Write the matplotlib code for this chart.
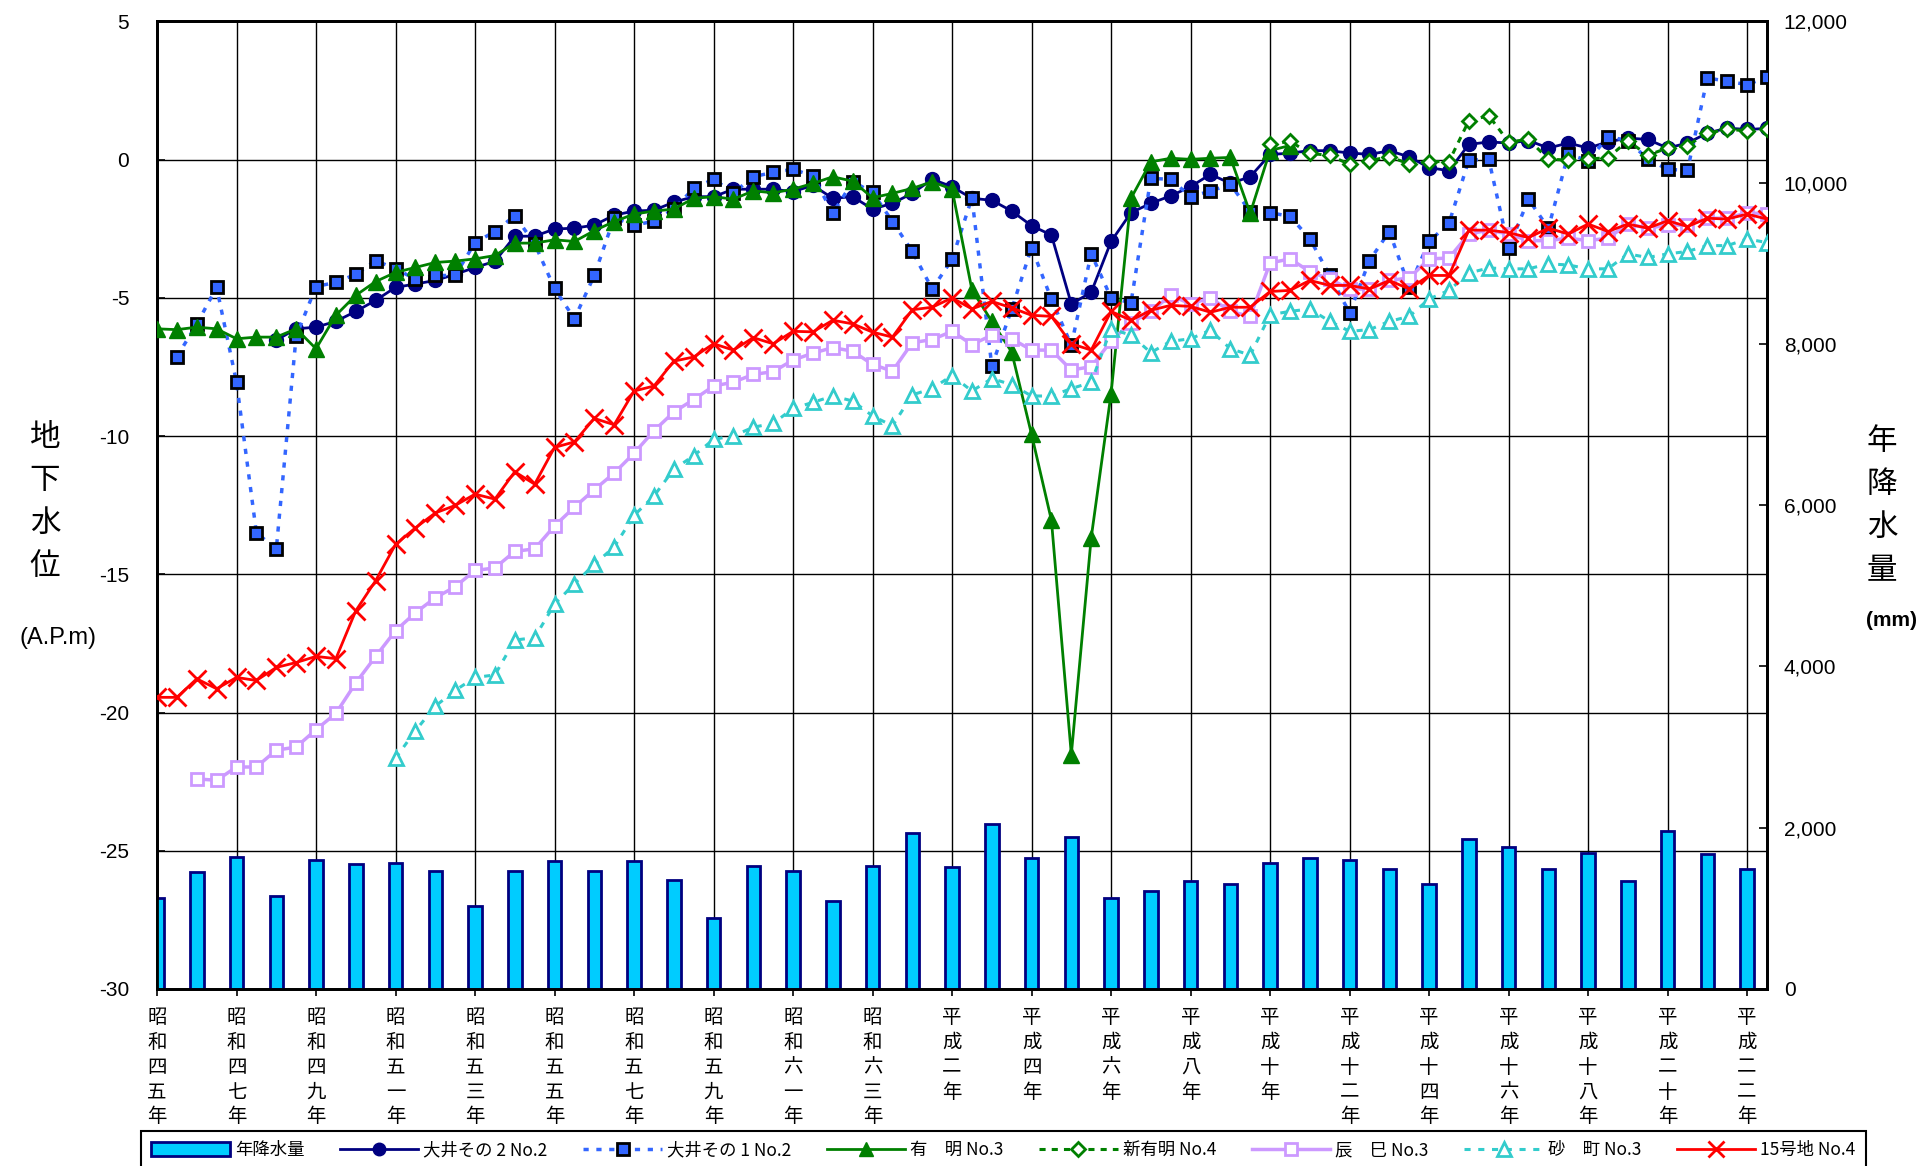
import numpy as np
import matplotlib
matplotlib.use("Agg")
import matplotlib.pyplot as plt
from matplotlib.patches import Patch
from matplotlib.lines import Line2D
from matplotlib.transforms import blended_transform_factory

nan = np.nan

# ---------------- data ----------------
# semiannual observations from 昭和45年 (1970) to 平成22年後半 (2010.5)
half_years = 1970 + 0.5 * np.arange(82)
rain_years = np.arange(1970, 2011)

oi2 = [nan, nan, nan, nan, nan, nan,
       -6.53, -6.12, -6.06, -5.85, -5.49, -5.09, -4.62, -4.50, -4.37, -4.15, -3.90, -3.68, -2.77, -2.77, -2.51,
       -2.48, -2.37, -2.01, -1.86, -1.83, -1.54, -1.34, -1.34, -1.07, -1.07, -1.07, -1.16, -0.93, -1.40, -1.34, -1.79, -1.58, -1.22, -0.71, -0.98,
       -1.40, -1.47, -1.86, -2.39, -2.73, -5.22, -4.80, -2.96, -1.92, -1.58, -1.31, -0.98, -0.53, -0.86, -0.62, 0.19, 0.23, 0.33, 0.32, 0.24,
       0.19, 0.32, 0.10, -0.29, -0.40, 0.55, 0.64, 0.60, 0.69, 0.42, 0.60, 0.42, 0.64, 0.78, 0.73, 0.42, 0.60, 0.96, 1.14, 1.09, 1.13]

oi1 = [nan,
       -7.13, -5.95, -4.62, -8.05, -13.49, -14.10, -6.39, -4.59, -4.44, -4.15, -3.65, -3.95, -4.32, -4.19, -4.19, -3.00, -2.60, -2.03, -3.04, -4.66,
       -5.76, -4.19, -2.10, -2.37, -2.23, -1.79, -1.04, -0.71, -1.20, -0.62, -0.46, -0.35, -0.59, -1.94, -0.80, -1.18, -2.24, -3.32, -4.68, -3.61,
       -1.38, -7.47, -5.41, -3.18, -5.05, -6.71, -3.40, -5.00, -5.18, -0.68, -0.71, -1.34, -1.14, -0.89, -1.88, -1.92, -2.05, -2.86, -4.19, -5.54,
       -3.65, -2.60, -4.60, -2.96, -2.30, -0.02, 0.02, -3.20, -1.43, -2.48, 0.20, -0.04, 0.83, 0.69, 0.02, -0.35, -0.39, 2.95, 2.84, 2.71, 2.99]

ariake = [-6.12, -6.15, -6.06, -6.12, -6.48, -6.42, -6.42, -6.12, -6.84, -5.63, -4.91, -4.41, -4.08, -3.90, -3.72, -3.67, -3.59, -3.47, -3.02, -3.02, -2.90,
          -2.96, -2.57, -2.24, -1.97, -1.86, -1.79, -1.40, -1.34, -1.43, -1.13, -1.20, -1.07, -0.86, -0.62, -0.78, -1.38, -1.22, -1.04, -0.80, -1.07,
          -4.71, -5.85, -6.96, -9.94, -13.05, -21.52, -13.68, -8.46, -1.40, -0.08, 0.05, 0.01, 0.05, 0.08, -1.94, 0.33, 0.51,
          nan, nan, nan, nan, nan, nan, nan, nan, nan, nan, nan, nan, nan, nan, nan, nan, nan, nan, nan, nan, nan, nan, nan, nan]

shin_ariake = [nan] * 56 + [0.55, 0.66, 0.23, 0.15, -0.17,
                            -0.04, 0.11, -0.16, -0.07, -0.07, 1.41, 1.59, 0.64, 0.73, 0.02, -0.02, 0.02, 0.07, 0.68, 0.16, 0.42, 0.51, 0.96, 1.09, 1.05, 1.09]

tatsumi = [nan, nan,
           -22.40, -22.45, -21.97, -21.97, -21.36, -21.25, -20.62, -20.03, -18.93, -17.97, -17.04, -16.39, -15.85, -15.45, -14.86, -14.77, -14.17, -14.08, -13.25,
           -12.57, -11.94, -11.34, -10.62, -9.81, -9.13, -8.68, -8.19, -8.05, -7.77, -7.67, -7.25, -7.00, -6.80, -6.93, -7.41, -7.65, -6.62, -6.51, -6.21,
           -6.69, -6.35, -6.48, -6.89, -6.89, -7.61, -7.49, -6.57, -5.90, -5.49, -4.91, -5.22, -5.00, -5.49, -5.67, -3.74, -3.59, -4.05, -4.32, -4.68,
           -4.68, -4.37, -4.28, -3.59, -3.56, -2.69, -2.55, -2.69, -2.93, -2.93, -2.84, -2.93, -2.84, -2.33, -2.48, -2.37, -2.37, -2.12, -2.12, -1.92, -1.97]

sunamachi = [nan] * 12 + [-21.65, -20.66, -19.77, -19.20, -18.73, -18.64, -17.38, -17.29, -16.08,
             -15.34, -14.64, -14.01, -12.87, -12.17, -11.20, -10.71, -10.12, -9.99, -9.68, -9.54, -9.00, -8.78, -8.55, -8.73, -9.27, -9.63, -8.51, -8.28, -7.81,
             -8.37, -7.92, -8.14, -8.55, -8.55, -8.28, -8.06, -6.12, -6.35, -6.98, -6.57, -6.48, -6.17, -6.84, -7.07, -5.61, -5.49, -5.40, -5.85, -6.21,
             -6.15, -5.85, -5.67, -5.04, -4.73, -4.10, -3.92, -3.95, -3.95, -3.77, -3.81, -3.95, -3.95, -3.41, -3.54, -3.41, -3.32, -3.11, -3.11, -2.87, -3.00]

jugochi = [-19.45, -19.45, -18.78, -19.14, -18.73, -18.84, -18.37, -18.19, -17.97, -18.05, -16.32, -15.23, -13.92, -13.32, -12.78, -12.51, -12.10, -12.28, -11.29, -11.74, -10.41,
           -10.21, -9.36, -9.59, -8.37, -8.19, -7.29, -7.14, -6.66, -6.89, -6.44, -6.66, -6.21, -6.23, -5.81, -5.94, -6.24, -6.42, -5.43, -5.34, -5.00,
           -5.40, -5.13, -5.36, -5.63, -5.67, -6.66, -6.89, -5.49, -5.81, -5.45, -5.27, -5.31, -5.52, -5.34, -5.34, -4.77, -4.73, -4.37, -4.55, -4.55,
           -4.68, -4.37, -4.68, -4.19, -4.19, -2.55, -2.55, -2.64, -2.82, -2.48, -2.69, -2.33, -2.60, -2.33, -2.48, -2.21, -2.42, -2.12, -2.15, -1.97, -2.15]

rain = [1125, 1445, 1635, 1150, 1602, 1553, 1565, 1461, 1029, 1461, 1582, 1465, 1582, 1349, 880, 1523, 1465, 1092, 1523, 1939,
        1517, 2051, 1627, 1880, 1133, 1220, 1341, 1308, 1557, 1627, 1606, 1494, 1303, 1864, 1756, 1486, 1689, 1341, 1963, 1673, 1494]

tick_years = np.arange(1970, 2011, 2)
tick_labels = ['昭和四五年', '昭和四七年', '昭和四九年', '昭和五一年', '昭和五三年', '昭和五五年', '昭和五七年',
               '昭和五九年', '昭和六一年', '昭和六三年', '平成二年', '平成四年', '平成六年', '平成八年', '平成十年',
               '平成十二年', '平成十四年', '平成十六年', '平成十八年', '平成二十年', '平成二二年']
left_ticks = np.arange(-30, 6, 5)
right_ticks = np.arange(0, 12001, 2000)

series_labels = ['年降水量', '大井その 2 No.2', '大井その 1 No.2', '有　明 No.3', '新有明 No.4',
                 '辰　巳 No.3', '砂　町 No.3', '15号地 No.4']

# ---------------- figure ----------------
JP = ['Noto Sans CJK JP', 'DejaVu Sans']
NUM = ['Liberation Sans', 'DejaVu Sans']
plt.rcParams['font.family'] = JP

W, H = 1919, 1166
fig = plt.figure(figsize=(W / 100, H / 100), dpi=100)
L, R, T, B = 157, 1767, 21.4, 989
ax = fig.add_axes([L / W, 1 - B / H, (R - L) / W, (B - T) / H])
ax2 = ax.twinx()
ax.set_zorder(ax2.get_zorder() + 1)
ax.patch.set_visible(False)

# bars on right axis
ax2.bar(rain_years, rain, width=0.34, color='#00CCFF', edgecolor='#000080', linewidth=2, zorder=3)
ax2.set_ylim(0, 12000)
ax2.set_yticks(right_ticks)
ax2.set_yticklabels([f'{v:,}' for v in right_ticks], fontfamily=NUM, fontsize=15)
ax2.tick_params(axis='y', direction='in', length=6, width=1.2, pad=12)

# grid lines (behind bars)
tr = blended_transform_factory(ax2.transAxes, ax.transData)
for v in left_ticks:
    ax2.plot([0, 1], [v, v], transform=tr, color='black', lw=1.0, zorder=1, clip_on=False)
for xv in tick_years:
    ax2.axvline(xv, color='black', lw=1.0, zorder=1)

common = dict(linewidth=2)
ax.plot(half_years, oi2, color='#000080', marker='o', markersize=10, mfc='#000080', mec='#000080', zorder=4, **common)
ax.plot(half_years, oi1, color='#3366FF', linestyle=(0, (1.5, 2.2)), linewidth=2.5, marker='s', markersize=9,
        mfc='#3366FF', mec='black', mew=2, zorder=5)
ax.plot(half_years, ariake, color='#008000', marker='^', markersize=11, mfc='#008000', mec='#008000', zorder=6, **common)
ax.plot(half_years, shin_ariake, color='#008000', linestyle=(0, (2, 2)), linewidth=2.2, marker='D', markersize=7,
        mfc='white', mec='#008000', mew=2, zorder=7)
ax.plot(half_years, tatsumi, color='#CC99FF', linewidth=2.5, marker='s', markersize=9, mfc='white', mec='#CC99FF',
        mew=2, zorder=8)
ax.plot(half_years, sunamachi, color='#33CCCC', linestyle=(0, (2, 2.5)), linewidth=2.2, marker='^', markersize=10,
        mfc='white', mec='#33CCCC', mew=2, zorder=9)
ax.plot(half_years, jugochi, color='#FF0000', marker='x', markersize=13, mew=2, zorder=10, **common)

ax.set_xlim(1970, 2010.5)
ax.set_ylim(-30, 5)
ax.set_yticks(left_ticks)
ax.set_yticklabels([str(v) for v in left_ticks], fontfamily=NUM, fontsize=15)
ax.tick_params(axis='y', direction='in', length=6, width=1.2, pad=20)
ax.set_xticks(tick_years)
ax.set_xticklabels(['\n'.join(s) for s in tick_labels], fontsize=14, linespacing=1.24, fontfamily=JP)
ax.tick_params(axis='x', direction='out', length=5, width=1.2, pad=8)
ax2.tick_params(axis='x', length=0)

for a in (ax, ax2):
    for s in a.spines.values():
        s.set_linewidth(2)
        s.set_color('black')

# axis titles
fig.text(45 / W, 1 - 502 / H, '地\n下\n水\n位', ha='center', va='center', fontsize=22, linespacing=1.5, fontfamily=JP)
fig.text(58 / W, 1 - 638 / H, '(A.P.m)', ha='center', va='center', fontsize=17, fontfamily=NUM)
fig.text(1882 / W, 1 - 506 / H, '年\n降\n水\n量', ha='center', va='center', fontsize=22, linespacing=1.5, fontfamily=JP)
fig.text(1891 / W, 1 - 620 / H, '(mm)', ha='center', va='center', fontsize=15,
         fontfamily=['Liberation Sans Narrow', 'Liberation Sans', 'DejaVu Sans'], fontweight='bold')

# legend
handles = [Patch(facecolor='#00CCFF', edgecolor='#000080', linewidth=2),
           Line2D([], [], color='#000080', lw=2, marker='o', ms=9, mfc='#000080', mec='#000080'),
           Line2D([], [], color='#3366FF', lw=2.5, ls=(0, (1.5, 2.2)), marker='s', ms=8, mfc='#3366FF', mec='black', mew=2),
           Line2D([], [], color='#008000', lw=2, marker='^', ms=10, mfc='#008000', mec='#008000'),
           Line2D([], [], color='#008000', lw=2.2, ls=(0, (2, 2)), marker='D', ms=7, mfc='white', mec='#008000', mew=2),
           Line2D([], [], color='#CC99FF', lw=2.5, marker='s', ms=9, mfc='white', mec='#CC99FF', mew=2),
           Line2D([], [], color='#33CCCC', lw=2.2, ls=(0, (2, 2.5)), marker='^', ms=10, mfc='white', mec='#33CCCC', mew=2),
           Line2D([], [], color='#FF0000', lw=2, marker='x', ms=12, mew=2)]
leg = fig.legend(handles, series_labels, loc='upper left', ncol=8,
                 bbox_to_anchor=(141 / W, 1 - 1132 / H, 1725 / W, 0.001), mode='expand',
                 prop={'family': JP, 'size': 12.5}, frameon=True, fancybox=False, framealpha=1,
                 edgecolor='black', handlelength=4.5, handletextpad=0.3, columnspacing=1.2,
                 borderpad=0.6, borderaxespad=0, handleheight=0.9)
leg.get_frame().set_linewidth(1.5)

fig.savefig('out.png', dpi=100)
